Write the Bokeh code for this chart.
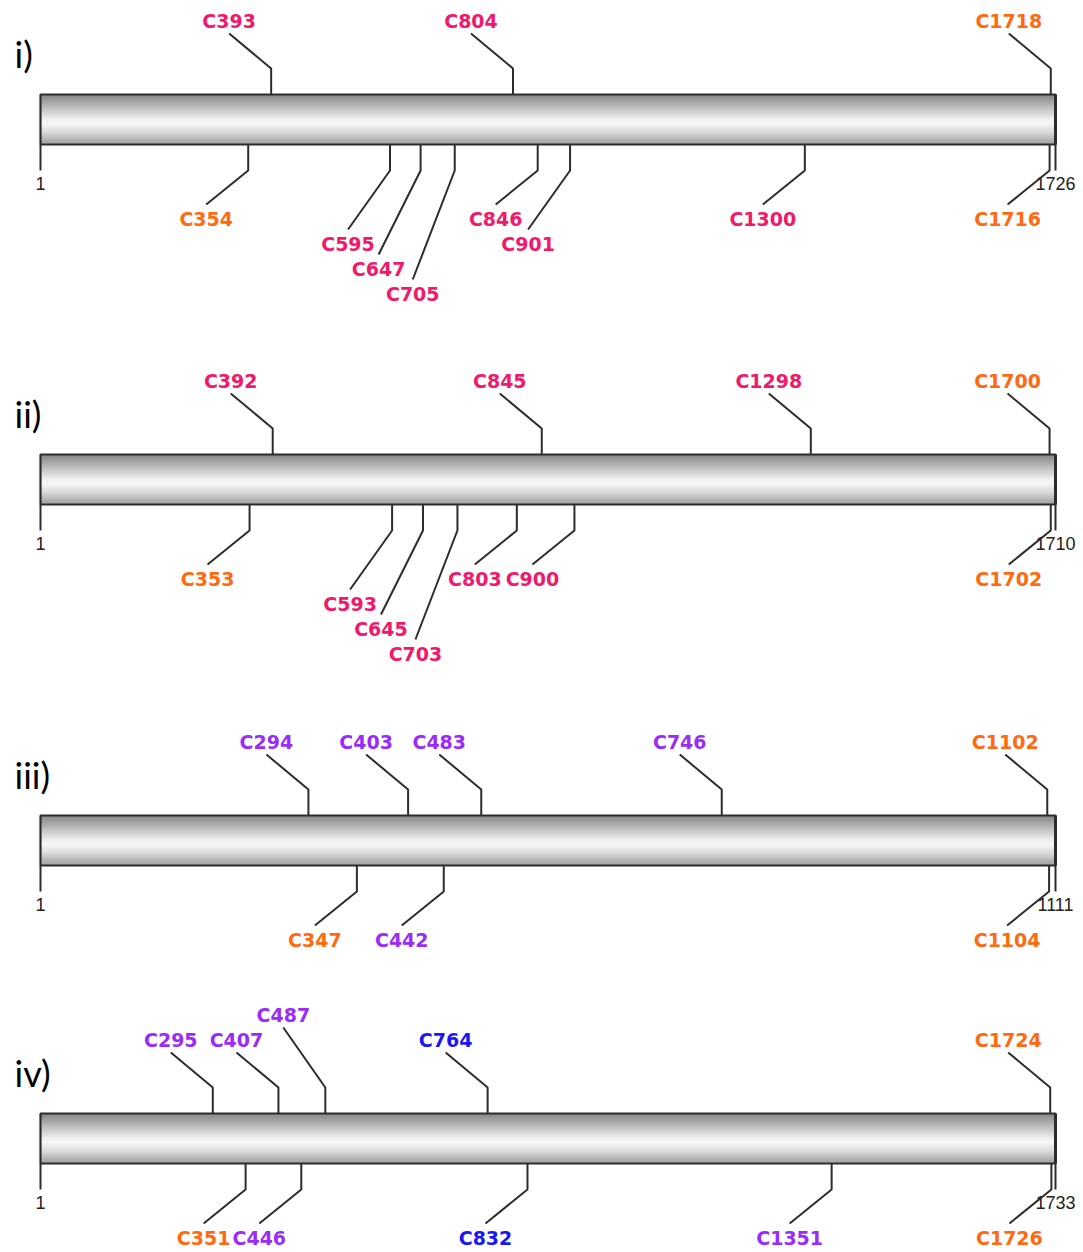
import numpy as np
from bokeh.plotting import figure
from bokeh.layouts import column
from bokeh.models import Range1d
from bokeh.core.properties import value
from bokeh.embed import file_html
from bokeh.resources import INLINE

# ---------------- data ----------------
panel_names = ["i)", "ii)", "iii)", "iv)"]
lengths = [1726, 1710, 1111, 1733]

# p = pink, o = orange, v = violet, b = blue
top_sites = [
    [393, 804, 1718],
    [392, 845, 1298, 1700],
    [294, 403, 483, 746, 1102],
    [295, 407, 487, 764, 1724],
]
top_class = [
    ["p", "p", "o"],
    ["p", "p", "p", "o"],
    ["v", "v", "v", "v", "o"],
    ["v", "v", "v", "b", "o"],
]
top_row = [
    [0, 0, 0],
    [0, 0, 0, 0],
    [0, 0, 0, 0, 0],
    [0, 0, 1, 0, 0],
]
bottom_sites = [
    [354, 595, 647, 705, 846, 901, 1300, 1716],
    [353, 593, 645, 703, 803, 900, 1702],
    [347, 442, 1104],
    [351, 446, 832, 1351, 1726],
]
bottom_class = [
    ["o", "p", "p", "p", "p", "p", "p", "o"],
    ["o", "p", "p", "p", "p", "p", "o"],
    ["o", "v", "o"],
    ["o", "v", "b", "v", "o"],
]
bottom_row = [
    [0, 1, 2, 3, 0, 1, 0, 0],
    [0, 1, 2, 3, 0, 0, 0],
    [0, 0, 0],
    [0, 0, 0, 0, 0],
]

# ---------------- style / layout ----------------
class_colors = {"p": "#F0196C", "o": "#FF6A10", "v": "#9A2CF8", "b": "#1818F2"}
line_col = "#2c2c2c"
FIG_W = 1083
PAGE_X0 = 0
BAR_LEFT_PX, BAR_RIGHT_PX = 40, 1055
fig_bounds = [(0, 335), (335, 695), (695, 995), (995, 1251)]
bar_tops = [94, 454, 815, 1113]
BAR_H = 50
STEM = 26
LBL_DX = 42
LBL_FONT = value("DejaVu Sans")

prof_t = [0.0, 0.08, 0.3, 0.5, 0.58, 0.75, 0.92, 1.0]
prof_g = [118, 135, 190, 238, 246, 215, 165, 150]

figs = []
for k in range(4):
    L = lengths[k]
    s = (L - 1) / (BAR_RIGHT_PX - BAR_LEFT_PX)  # residues per pixel
    x0 = 1 + (PAGE_X0 - BAR_LEFT_PX) * s
    x1 = x0 + FIG_W * s
    ytop, ybot = fig_bounds[k]
    H = ybot - ytop
    p = figure(width=FIG_W, height=H, x_range=Range1d(x0, x1),
               y_range=Range1d(ybot, ytop), toolbar_location=None,
               output_backend="svg", min_border=0,
               x_axis_location=None, y_axis_location=None)
    p.outline_line_color = None
    p.xgrid.visible = False
    p.ygrid.visible = False
    p.background_fill_color = "white"
    p.border_fill_color = "white"

    bt = bar_tops[k]
    bb = bt + BAR_H

    # gradient bar (stripes)
    n = BAR_H
    tt = (np.arange(n) + 0.5) / n
    g = np.interp(tt, prof_t, prof_g).astype(int)
    cols = ["#%02x%02x%02x" % (v, v, v) for v in g]
    tops = bt + np.arange(n)
    p.quad(left=1, right=L, top=tops, bottom=tops + 1.3, fill_color=cols,
           line_color=None)
    p.quad(left=[1], right=[L], top=[bt], bottom=[bb], fill_color=None,
           line_color=line_col, line_width=2.2)
    p.segment(x0=[L], y0=[bt], x1=[L], y1=[bb], line_color=line_col, line_width=3)

    # end ticks
    p.segment(x0=[1, L], y0=[bb, bb], x1=[1, L], y1=[bb + STEM, bb + STEM],
              line_color=line_col, line_width=2)
    p.text(x=[1, L], y=[bb + 39, bb + 39], text=["1", str(L)],
           text_align="center", text_baseline="middle",
           text_font=value("Liberation Sans"), text_font_size="18px",
           text_color="#222222")

    # callouts above and below
    xs, ys, lx, ly, lt, lc = [], [], [], [], [], []
    for r, c, lv in zip(top_sites[k], top_class[k], top_row[k]):
        ex = r - LBL_DX * s
        xs.append([r, r, ex])
        ys.append([bt, bt - STEM, bt - 61 - 25 * lv])
        lx.append(ex)
        ly.append(bt - 74 - 25 * lv)
        lt.append("C%d" % r)
        lc.append(class_colors[c])
    for r, c, lv in zip(bottom_sites[k], bottom_class[k], bottom_row[k]):
        ex = r - LBL_DX * s
        xs.append([r, r, ex])
        ys.append([bb, bb + STEM, bb + 60 + 25 * lv])
        lx.append(ex)
        ly.append(bb + 74 + 25 * lv)
        lt.append("C%d" % r)
        lc.append(class_colors[c])
    p.multi_line(xs=xs, ys=ys, line_color=line_col, line_width=2)
    p.text(x=lx, y=ly, text=lt, text_color=lc, text_align="center",
           text_baseline="middle", text_font=LBL_FONT, text_font_style="bold",
           text_font_size="19px")

    # panel label
    p.text(x=[1 + (14 - BAR_LEFT_PX) * s], y=[bt - 41], text=[panel_names[k]],
           text_align="left", text_baseline="middle",
           text_font=value("Lato"), text_font_size="36px", text_color="black")
    figs.append(p)

layout = column(*figs, spacing=0)
open("out.html", "w").write(file_html(layout, INLINE))
